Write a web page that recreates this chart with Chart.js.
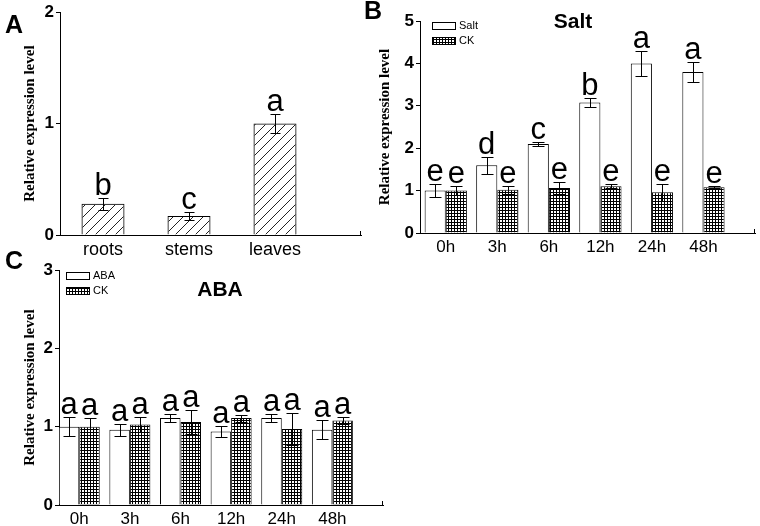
<!DOCTYPE html>
<html>
<head>
<meta charset="utf-8">
<script src="https://cdn.jsdelivr.net/npm/chart.js@4.4.1/dist/chart.umd.min.js"></script>
<style>
body { margin: 0; background: #fff; }
#wrap { position: relative; width: 760px; height: 526px; overflow: hidden; }
canvas { position: absolute; }
.tag { position: absolute; font: bold 25px "Liberation Sans", Arial, sans-serif; line-height: 1; z-index: 2; }
</style>
</head>
<body>
<div id="wrap">
  <canvas id="chartA" width="370" height="258" style="left:0;top:0"></canvas>
  <canvas id="chartB" width="390" height="258" style="left:370px;top:0"></canvas>
  <canvas id="chartC" width="400" height="268" style="left:0;top:258px"></canvas>
  <div class="tag" style="left:5px;top:12px">A</div>
  <div class="tag" style="left:364px;top:-2px">B</div>
  <div class="tag" style="left:5px;top:248px">C</div>
</div>
<script>
// panel A - tissues
var tissues = ['roots', 'stems', 'leaves'];
var tissueMean = [0.28, 0.17, 1.0];
var tissueErr = [0.055, 0.035, 0.085];
var tissueLetters = ['b', 'c', 'a'];

// panels B and C - time course
var times = ['0h', '3h', '6h', '12h', '24h', '48h'];

var saltMean = [1.0, 1.6, 2.1, 3.08, 4.0, 3.8];
var saltErr = [0.16, 0.2, 0.05, 0.1, 0.3, 0.24];
var saltLetters = ['e', 'd', 'c', 'b', 'a', 'a'];
var saltCkMean = [1.0, 1.02, 1.06, 1.1, 0.96, 1.08];
var saltCkErr = [0.1, 0.1, 0.14, 0.05, 0.2, 0.02];
var saltCkLetters = ['e', 'e', 'e', 'e', 'e', 'e'];

var abaMean = [1.0, 0.96, 1.11, 0.94, 1.11, 0.96];
var abaErr = [0.12, 0.08, 0.05, 0.07, 0.05, 0.12];
var abaLetters = ['a', 'a', 'a', 'a', 'a', 'a'];
var abaCkMean = [1.0, 1.03, 1.06, 1.11, 0.97, 1.08];
var abaCkErr = [0.11, 0.1, 0.15, 0.045, 0.2, 0.04];
var abaCkLetters = ['a', 'a', 'a', 'a', 'a', 'a'];

var sans = '"Liberation Sans", Arial, sans-serif';
var serif = '"Liberation Serif", "Times New Roman", serif';

function hatch() {
  var c = document.createElement('canvas');
  c.width = 10; c.height = 10;
  var g = c.getContext('2d');
  g.strokeStyle = '#222';
  g.lineWidth = 1;
  g.beginPath();
  g.moveTo(0, 10); g.lineTo(10, 0);
  g.moveTo(-1, 1); g.lineTo(1, -1);
  g.moveTo(9, 11); g.lineTo(11, 9);
  g.stroke();
  return g.createPattern(c, 'repeat');
}

function checks() {
  var c = document.createElement('canvas');
  c.width = 3; c.height = 3;
  var g = c.getContext('2d');
  g.fillStyle = '#000';
  g.fillRect(0, 0, 3, 3);
  g.fillStyle = '#fff';
  g.fillRect(1, 1, 2, 2);
  return g.createPattern(c, 'repeat');
}

function points(arr) {
  return arr.map(function (v, i) { return { x: i, y: v }; });
}

// error bars, letters, title, legend, end tick of x axis
var marks = {
  id: 'marks',
  afterDatasetsDraw: function (chart, args, opts) {
    var ctx = chart.ctx, ys = chart.scales.y, area = chart.chartArea;
    ctx.save();
    ctx.strokeStyle = '#000';
    ctx.fillStyle = '#000';
    ctx.lineWidth = 1;
    chart.data.datasets.forEach(function (ds, di) {
      var meta = chart.getDatasetMeta(di);
      meta.data.forEach(function (bar, i) {
        var v = ds.data[i].y, e = ds.err[i];
        var x = Math.round(bar.x) + 0.5;
        var top = Math.round(ys.getPixelForValue(v + e)) + 0.5;
        var bot = Math.round(ys.getPixelForValue(v - e)) + 0.5;
        ctx.beginPath();
        ctx.moveTo(x, top); ctx.lineTo(x, bot);
        ctx.moveTo(x - opts.cap, top); ctx.lineTo(x + opts.cap, top);
        ctx.moveTo(x - opts.cap, bot); ctx.lineTo(x + opts.cap, bot);
        ctx.stroke();
        ctx.font = '31px ' + sans;
        ctx.textAlign = 'center';
        ctx.textBaseline = 'alphabetic';
        ctx.fillText(ds.letters[i], bar.x, top - 4);
      });
    });
    // small end tick on x axis
    ctx.beginPath();
    ctx.moveTo(Math.round(area.right) - 0.5, area.bottom);
    ctx.lineTo(Math.round(area.right) - 0.5, area.bottom - 4);
    ctx.stroke();
    if (opts.title) {
      ctx.font = 'bold 21px ' + sans;
      ctx.textAlign = 'center';
      ctx.textBaseline = 'middle';
      ctx.fillText(opts.title, opts.titleX, opts.titleY);
    }
    if (opts.legend) {
      ctx.font = '11px ' + sans;
      ctx.textAlign = 'left';
      ctx.textBaseline = 'middle';
      chart.data.datasets.forEach(function (ds, di) {
        var lx = opts.legendX, ly = opts.legendY + di * 15;
        ctx.fillStyle = ds.backgroundColor;
        ctx.fillRect(lx, ly, 24, 8);
        ctx.strokeRect(lx + 0.5, ly + 0.5, 23, 7);
        ctx.fillStyle = '#000';
        ctx.fillText(ds.label, lx + 27, ly + 4);
      });
    }
    ctx.restore();
  }
};

function panelOptions(o) {
  return {
    responsive: false,
    animation: false,
    layout: { padding: { top: o.top, right: o.right, left: 0, bottom: 0 } },
    plugins: {
      legend: { display: false },
      tooltip: { enabled: false },
      marks: o.marks
    },
    scales: {
      x: {
        type: 'linear',
        offset: false,
        min: o.xmin,
        max: o.xmax,
        grid: { display: false, drawTicks: false, offset: false },
        border: { display: true, color: '#000', width: 1 },
        afterBuildTicks: function (s) {
          s.ticks = o.labels.map(function (l, i) { return { value: i }; });
        },
        afterFit: function (s) { s.height = o.xh; },
        ticks: {
          callback: function (v) { return o.labels[v]; },
          padding: 4,
          color: '#000',
          maxRotation: 0,
          autoSkip: false,
          font: { family: sans, size: o.xfont }
        }
      },
      y: {
        min: 0,
        max: o.ymax,
        afterFit: function (s) { s.width = o.yw; },
        ticks: { stepSize: 1, padding: 2, color: '#000', font: { family: sans, size: 17, weight: 'bold' } },
        grid: { drawOnChartArea: false, drawTicks: true, tickLength: 4, color: '#000' },
        border: { display: true, color: '#000', width: 1 },
        title: {
          display: true,
          text: 'Relative expression level',
          color: '#000',
          font: { family: serif, size: 15, weight: 'bold' },
          padding: { top: o.tpad, bottom: 0 }
        }
      }
    }
  };
}

new Chart(document.getElementById('chartA'), {
  type: 'bar',
  data: {
    datasets: [{
      label: 'tissue',
      data: points(tissueMean),
      err: tissueErr,
      letters: tissueLetters,
      backgroundColor: hatch(),
      borderColor: '#000',
      borderWidth: 1,
      categoryPercentage: 0.5,
      barPercentage: 1
    }]
  },
  options: panelOptions({ top: 10, right: 9, xmin: -0.5, xmax: 3, xh: 23, yw: 60, ymax: 2, tpad: 21,
    xfont: 18, labels: tissues, marks: { cap: 5 } }),
  plugins: [marks]
});

new Chart(document.getElementById('chartB'), {
  type: 'bar',
  data: {
    datasets: [{
      label: 'Salt',
      data: points(saltMean),
      err: saltErr,
      letters: saltLetters,
      backgroundColor: '#fff',
      borderColor: '#000',
      borderWidth: 1,
      categoryPercentage: 0.82,
      barPercentage: 1
    }, {
      label: 'CK',
      data: points(saltCkMean),
      err: saltCkErr,
      letters: saltCkLetters,
      backgroundColor: checks(),
      borderColor: '#000',
      borderWidth: 1,
      categoryPercentage: 0.82,
      barPercentage: 1
    }]
  },
  options: panelOptions({ top: 21, right: 5, xmin: -0.5, xmax: 6, xh: 25, yw: 50, ymax: 5, tpad: 6,
    xfont: 17, labels: times,
    marks: { cap: 6, title: 'Salt', titleX: 203, titleY: 22, legend: true, legendX: 62, legendY: 22 } }),
  plugins: [marks]
});

new Chart(document.getElementById('chartC'), {
  type: 'bar',
  data: {
    datasets: [{
      label: 'ABA',
      data: points(abaMean),
      err: abaErr,
      letters: abaLetters,
      backgroundColor: '#fff',
      borderColor: '#000',
      borderWidth: 1,
      categoryPercentage: 0.81,
      barPercentage: 1
    }, {
      label: 'CK',
      data: points(abaCkMean),
      err: abaCkErr,
      letters: abaCkLetters,
      backgroundColor: checks(),
      borderColor: '#000',
      borderWidth: 1,
      categoryPercentage: 0.81,
      barPercentage: 1
    }]
  },
  options: panelOptions({ top: 9, right: 17, xmin: -0.4, xmax: 6, xh: 21, yw: 59, ymax: 3, tpad: 21,
    xfont: 17, labels: times,
    marks: { cap: 6, title: 'ABA', titleX: 220, titleY: 32, legend: true, legendX: 66, legendY: 14 } }),
  plugins: [marks]
});
</script>
</body>
</html>
